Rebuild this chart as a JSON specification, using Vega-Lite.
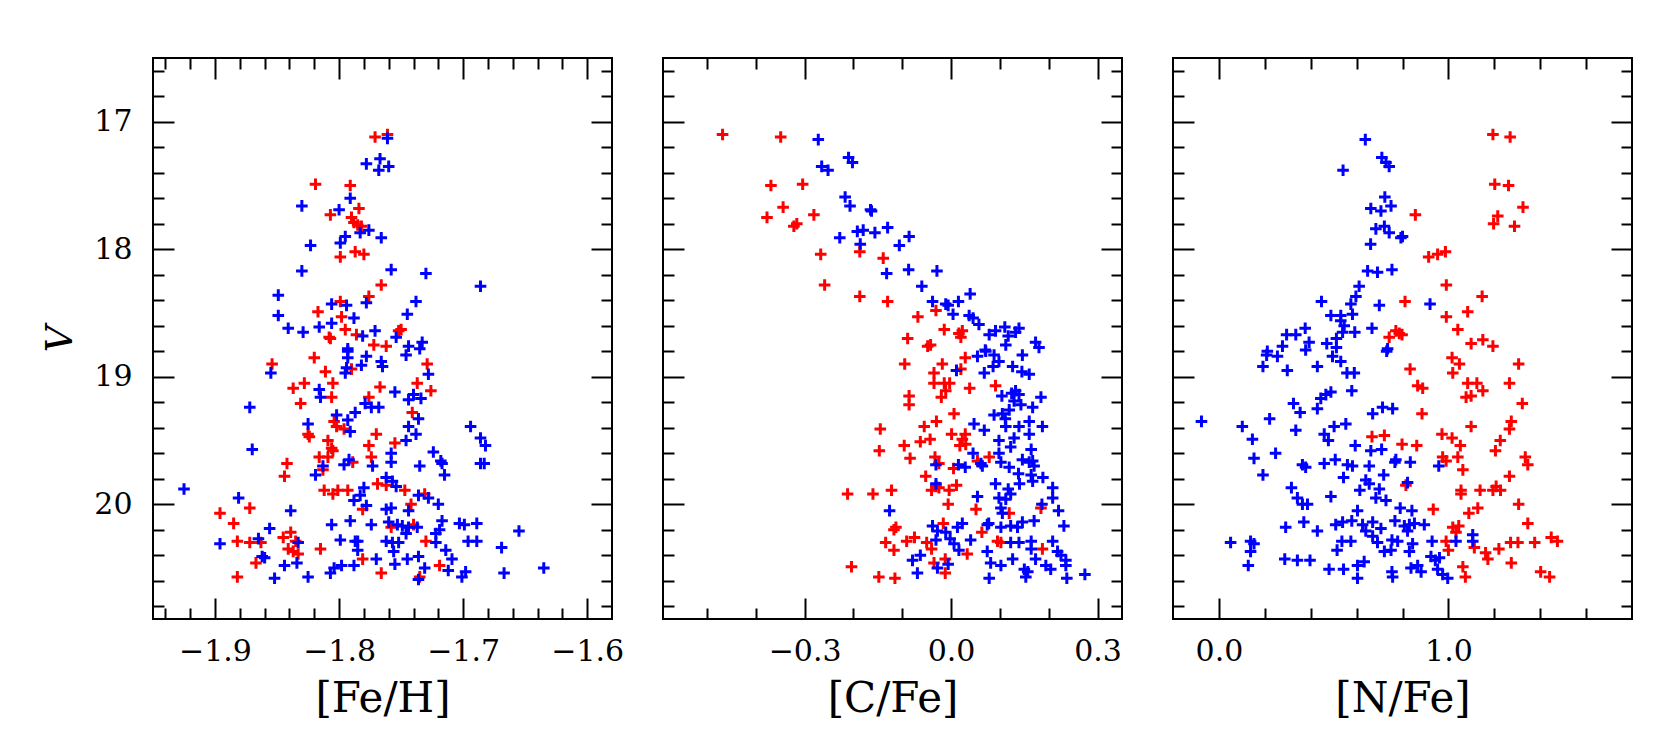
{
"$schema": "https://vega.github.io/schema/vega-lite/v6.json",
"padding": {"left": 40, "top": 56, "right": 5, "bottom": 4},
"background": "white",
"config": {
  "view": {"stroke": "black", "strokeWidth": 2},
  "axis": {"domain": false, "grid": false, "tickColor": "black", "tickWidth": 2, "labelFont": "DejaVu Serif", "labelFontSize": 30, "labelColor": "black", "titleFont": "DejaVu Serif", "titleFontSize": 42, "titleFontWeight": "normal", "titleColor": "black", "labelFlush": false, "labelOverlap": false}
},
"datasets": {
"feh": [
{"feh":-1.771,"V":17.12,"g":"red"},{"feh":-1.761,"V":17.10,"g":"red"},{"feh":-1.819,"V":17.49,"g":"red"},{"feh":-1.791,"V":17.50,"g":"red"},{"feh":-1.784,"V":17.68,"g":"red"},{"feh":-1.807,"V":17.73,"g":"red"},{"feh":-1.790,"V":17.75,"g":"red"},{"feh":-1.788,"V":17.79,"g":"red"},{"feh":-1.785,"V":17.81,"g":"red"},{"feh":-1.782,"V":17.82,"g":"red"},{"feh":-1.787,"V":18.02,"g":"red"},{"feh":-1.780,"V":18.04,"g":"red"},{"feh":-1.799,"V":18.06,"g":"red"},{"feh":-1.766,"V":18.28,"g":"red"},{"feh":-1.776,"V":18.37,"g":"red"},{"feh":-1.799,"V":18.41,"g":"red"},{"feh":-1.817,"V":18.49,"g":"red"},{"feh":-1.798,"V":18.53,"g":"red"},{"feh":-1.795,"V":18.63,"g":"red"},{"feh":-1.786,"V":18.67,"g":"red"},{"feh":-1.808,"V":18.69,"g":"red"},{"feh":-1.807,"V":18.70,"g":"red"},{"feh":-1.752,"V":18.64,"g":"red"},{"feh":-1.750,"V":18.63,"g":"red"},{"feh":-1.772,"V":18.75,"g":"red"},{"feh":-1.762,"V":18.76,"g":"red"},
{"feh":-1.854,"V":18.90,"g":"red"},{"feh":-1.820,"V":18.85,"g":"red"},{"feh":-1.790,"V":18.94,"g":"red"},{"feh":-1.811,"V":18.96,"g":"red"},{"feh":-1.729,"V":18.90,"g":"red"},{"feh":-1.837,"V":19.09,"g":"red"},{"feh":-1.828,"V":19.05,"g":"red"},{"feh":-1.805,"V":19.05,"g":"red"},{"feh":-1.806,"V":19.16,"g":"red"},{"feh":-1.767,"V":19.08,"g":"red"},{"feh":-1.737,"V":19.05,"g":"red"},{"feh":-1.726,"V":19.11,"g":"red"},{"feh":-1.776,"V":19.16,"g":"red"},{"feh":-1.831,"V":19.21,"g":"red"},{"feh":-1.741,"V":19.28,"g":"red"},{"feh":-1.804,"V":19.35,"g":"red"},{"feh":-1.802,"V":19.39,"g":"red"},{"feh":-1.796,"V":19.41,"g":"red"},{"feh":-1.825,"V":19.45,"g":"red"},{"feh":-1.824,"V":19.47,"g":"red"},{"feh":-1.770,"V":19.45,"g":"red"},{"feh":-1.809,"V":19.50,"g":"red"},{"feh":-1.806,"V":19.56,"g":"red"},{"feh":-1.805,"V":19.58,"g":"red"},{"feh":-1.776,"V":19.54,"g":"red"},{"feh":-1.755,"V":19.52,"g":"red"},{"feh":-1.816,"V":19.63,"g":"red"},{"feh":-1.809,"V":19.63,"g":"red"},{"feh":-1.774,"V":19.63,"g":"red"},{"feh":-1.789,"V":19.67,"g":"red"},{"feh":-1.842,"V":19.68,"g":"red"},{"feh":-1.844,"V":19.78,"g":"red"},{"feh":-1.813,"V":19.73,"g":"red"},{"feh":-1.769,"V":19.84,"g":"red"},{"feh":-1.762,"V":19.85,"g":"red"},{"feh":-1.812,"V":19.89,"g":"red"},{"feh":-1.805,"V":19.92,"g":"red"},{"feh":-1.801,"V":19.89,"g":"red"},{"feh":-1.793,"V":19.89,"g":"red"},{"feh":-1.747,"V":19.89,"g":"red"},{"feh":-1.731,"V":19.92,"g":"red"},{"feh":-1.742,"V":20.00,"g":"red"},{"feh":-1.872,"V":20.03,"g":"red"},{"feh":-1.781,"V":20.04,"g":"red"},{"feh":-1.896,"V":20.07,"g":"red"},{"feh":-1.885,"V":20.15,"g":"red"},{"feh":-1.758,"V":20.18,"g":"red"},{"feh":-1.740,"V":20.16,"g":"red"},{"feh":-1.882,"V":20.29,"g":"red"},{"feh":-1.872,"V":20.30,"g":"red"},{"feh":-1.863,"V":20.30,"g":"red"},{"feh":-1.839,"V":20.22,"g":"red"},{"feh":-1.845,"V":20.26,"g":"red"},{"feh":-1.835,"V":20.29,"g":"red"},{"feh":-1.841,"V":20.35,"g":"red"},{"feh":-1.837,"V":20.37,"g":"red"},{"feh":-1.833,"V":20.39,"g":"red"},{"feh":-1.815,"V":20.35,"g":"red"},{"feh":-1.730,"V":20.29,"g":"red"},{"feh":-1.867,"V":20.46,"g":"red"},{"feh":-1.781,"V":20.43,"g":"red"},{"feh":-1.719,"V":20.48,"g":"red"},{"feh":-1.766,"V":20.54,"g":"red"},{"feh":-1.882,"V":20.57,"g":"red"},{"feh":-1.735,"V":20.57,"g":"red"},
{"feh":-1.761,"V":17.13,"g":"blue"},{"feh":-1.767,"V":17.29,"g":"blue"},{"feh":-1.778,"V":17.33,"g":"blue"},{"feh":-1.760,"V":17.35,"g":"blue"},{"feh":-1.768,"V":17.38,"g":"blue"},{"feh":-1.791,"V":17.60,"g":"blue"},{"feh":-1.830,"V":17.66,"g":"blue"},{"feh":-1.800,"V":17.69,"g":"blue"},{"feh":-1.783,"V":17.87,"g":"blue"},{"feh":-1.776,"V":17.85,"g":"blue"},{"feh":-1.766,"V":17.91,"g":"blue"},{"feh":-1.795,"V":17.90,"g":"blue"},{"feh":-1.799,"V":17.95,"g":"blue"},{"feh":-1.823,"V":17.97,"g":"blue"},{"feh":-1.830,"V":18.17,"g":"blue"},{"feh":-1.758,"V":18.16,"g":"blue"},{"feh":-1.730,"V":18.19,"g":"blue"},{"feh":-1.686,"V":18.29,"g":"blue"},{"feh":-1.849,"V":18.36,"g":"blue"},{"feh":-1.738,"V":18.41,"g":"blue"},{"feh":-1.778,"V":18.42,"g":"blue"},{"feh":-1.806,"V":18.43,"g":"blue"},{"feh":-1.794,"V":18.44,"g":"blue"},{"feh":-1.849,"V":18.52,"g":"blue"},{"feh":-1.788,"V":18.54,"g":"blue"},{"feh":-1.745,"V":18.51,"g":"blue"},{"feh":-1.841,"V":18.62,"g":"blue"},{"feh":-1.829,"V":18.65,"g":"blue"},{"feh":-1.816,"V":18.61,"g":"blue"},{"feh":-1.806,"V":18.58,"g":"blue"},{"feh":-1.771,"V":18.64,"g":"blue"},{"feh":-1.781,"V":18.68,"g":"blue"},{"feh":-1.754,"V":18.69,"g":"blue"},{"feh":-1.744,"V":18.76,"g":"blue"},{"feh":-1.733,"V":18.73,"g":"blue"},{"feh":-1.735,"V":18.78,"g":"blue"},{"feh":-1.793,"V":18.78,"g":"blue"},
{"feh":-1.855,"V":18.97,"g":"blue"},{"feh":-1.793,"V":18.80,"g":"blue"},{"feh":-1.793,"V":18.85,"g":"blue"},{"feh":-1.778,"V":18.84,"g":"blue"},{"feh":-1.766,"V":18.88,"g":"blue"},{"feh":-1.765,"V":18.92,"g":"blue"},{"feh":-1.782,"V":18.91,"g":"blue"},{"feh":-1.794,"V":18.93,"g":"blue"},{"feh":-1.795,"V":18.97,"g":"blue"},{"feh":-1.746,"V":18.83,"g":"blue"},{"feh":-1.728,"V":18.98,"g":"blue"},{"feh":-1.816,"V":19.10,"g":"blue"},{"feh":-1.815,"V":19.16,"g":"blue"},{"feh":-1.755,"V":19.12,"g":"blue"},{"feh":-1.740,"V":19.14,"g":"blue"},{"feh":-1.744,"V":19.18,"g":"blue"},{"feh":-1.734,"V":19.17,"g":"blue"},{"feh":-1.872,"V":19.24,"g":"blue"},{"feh":-1.779,"V":19.21,"g":"blue"},{"feh":-1.774,"V":19.24,"g":"blue"},{"feh":-1.768,"V":19.24,"g":"blue"},{"feh":-1.787,"V":19.28,"g":"blue"},{"feh":-1.802,"V":19.30,"g":"blue"},{"feh":-1.736,"V":19.33,"g":"blue"},{"feh":-1.793,"V":19.34,"g":"blue"},{"feh":-1.791,"V":19.43,"g":"blue"},{"feh":-1.825,"V":19.37,"g":"blue"},{"feh":-1.744,"V":19.39,"g":"blue"},{"feh":-1.738,"V":19.45,"g":"blue"},{"feh":-1.694,"V":19.39,"g":"blue"},{"feh":-1.686,"V":19.48,"g":"blue"},{"feh":-1.682,"V":19.54,"g":"blue"},{"feh":-1.746,"V":19.50,"g":"blue"},{"feh":-1.870,"V":19.57,"g":"blue"},{"feh":-1.724,"V":19.59,"g":"blue"},{"feh":-1.758,"V":19.60,"g":"blue"},{"feh":-1.758,"V":19.67,"g":"blue"},{"feh":-1.792,"V":19.65,"g":"blue"},{"feh":-1.796,"V":19.69,"g":"blue"},{"feh":-1.718,"V":19.66,"g":"blue"},{"feh":-1.717,"V":19.68,"g":"blue"},{"feh":-1.813,"V":19.70,"g":"blue"},{"feh":-1.819,"V":19.77,"g":"blue"},{"feh":-1.773,"V":19.70,"g":"blue"},{"feh":-1.735,"V":19.70,"g":"blue"},{"feh":-1.715,"V":19.77,"g":"blue"},{"feh":-1.686,"V":19.68,"g":"blue"},{"feh":-1.683,"V":19.68,"g":"blue"},{"feh":-1.762,"V":19.79,"g":"blue"},{"feh":-1.757,"V":19.82,"g":"blue"},{"feh":-1.754,"V":19.86,"g":"blue"},{"feh":-1.925,"V":19.88,"g":"blue"},{"feh":-1.780,"V":19.87,"g":"blue"},{"feh":-1.783,"V":19.93,"g":"blue"},{"feh":-1.788,"V":19.97,"g":"blue"},{"feh":-1.736,"V":19.93,"g":"blue"},{"feh":-1.728,"V":19.95,"g":"blue"},{"feh":-1.881,"V":19.95,"g":"blue"},{"feh":-1.720,"V":20.00,"g":"blue"},{"feh":-1.744,"V":20.05,"g":"blue"},{"feh":-1.839,"V":20.05,"g":"blue"},{"feh":-1.778,"V":20.01,"g":"blue"},{"feh":-1.762,"V":20.04,"g":"blue"},{"feh":-1.758,"V":20.03,"g":"blue"},{"feh":-1.806,"V":20.16,"g":"blue"},{"feh":-1.791,"V":20.13,"g":"blue"},{"feh":-1.774,"V":20.16,"g":"blue"},{"feh":-1.760,"V":20.14,"g":"blue"},{"feh":-1.753,"V":20.16,"g":"blue"},{"feh":-1.749,"V":20.17,"g":"blue"},{"feh":-1.744,"V":20.18,"g":"blue"},{"feh":-1.737,"V":20.18,"g":"blue"},{"feh":-1.717,"V":20.13,"g":"blue"},{"feh":-1.719,"V":20.20,"g":"blue"},{"feh":-1.722,"V":20.23,"g":"blue"},{"feh":-1.703,"V":20.15,"g":"blue"},{"feh":-1.699,"V":20.16,"g":"blue"},{"feh":-1.689,"V":20.15,"g":"blue"},{"feh":-1.655,"V":20.21,"g":"blue"},{"feh":-1.856,"V":20.19,"g":"blue"},{"feh":-1.865,"V":20.27,"g":"blue"},{"feh":-1.896,"V":20.31,"g":"blue"},{"feh":-1.833,"V":20.30,"g":"blue"},{"feh":-1.799,"V":20.28,"g":"blue"},{"feh":-1.787,"V":20.29,"g":"blue"},{"feh":-1.785,"V":20.29,"g":"blue"},{"feh":-1.785,"V":20.36,"g":"blue"},{"feh":-1.762,"V":20.29,"g":"blue"},{"feh":-1.757,"V":20.30,"g":"blue"},{"feh":-1.752,"V":20.30,"g":"blue"},{"feh":-1.756,"V":20.37,"g":"blue"},{"feh":-1.746,"V":20.23,"g":"blue"},{"feh":-1.722,"V":20.30,"g":"blue"},{"feh":-1.714,"V":20.36,"g":"blue"},{"feh":-1.709,"V":20.43,"g":"blue"},{"feh":-1.696,"V":20.29,"g":"blue"},{"feh":-1.689,"V":20.29,"g":"blue"},{"feh":-1.669,"V":20.34,"g":"blue"},{"feh":-1.862,"V":20.41,"g":"blue"},{"feh":-1.860,"V":20.42,"g":"blue"},{"feh":-1.770,"V":20.43,"g":"blue"},{"feh":-1.755,"V":20.47,"g":"blue"},{"feh":-1.745,"V":20.43,"g":"blue"},{"feh":-1.736,"V":20.41,"g":"blue"},{"feh":-1.731,"V":20.50,"g":"blue"},{"feh":-1.712,"V":20.52,"g":"blue"},{"feh":-1.698,"V":20.53,"g":"blue"},{"feh":-1.701,"V":20.57,"g":"blue"},{"feh":-1.667,"V":20.54,"g":"blue"},{"feh":-1.635,"V":20.50,"g":"blue"},{"feh":-1.844,"V":20.48,"g":"blue"},{"feh":-1.834,"V":20.46,"g":"blue"},{"feh":-1.807,"V":20.54,"g":"blue"},{"feh":-1.804,"V":20.50,"g":"blue"},{"feh":-1.798,"V":20.48,"g":"blue"},{"feh":-1.788,"V":20.48,"g":"blue"},{"feh":-1.852,"V":20.58,"g":"blue"},{"feh":-1.825,"V":20.57,"g":"blue"},{"feh":-1.736,"V":20.59,"g":"blue"}
],
"cfe": [
{"cfe":-0.468,"V":17.10,"g":"red"},{"cfe":-0.349,"V":17.12,"g":"red"},{"cfe":-0.369,"V":17.50,"g":"red"},{"cfe":-0.304,"V":17.49,"g":"red"},{"cfe":-0.344,"V":17.67,"g":"red"},{"cfe":-0.377,"V":17.75,"g":"red"},{"cfe":-0.281,"V":17.73,"g":"red"},{"cfe":-0.322,"V":17.82,"g":"red"},{"cfe":-0.316,"V":17.80,"g":"red"},{"cfe":-0.267,"V":18.04,"g":"red"},{"cfe":-0.187,"V":18.02,"g":"red"},{"cfe":-0.139,"V":18.07,"g":"red"},{"cfe":-0.259,"V":18.28,"g":"red"},{"cfe":-0.187,"V":18.37,"g":"red"},{"cfe":-0.130,"V":18.41,"g":"red"},{"cfe":-0.068,"V":18.53,"g":"red"},{"cfe":-0.031,"V":18.48,"g":"red"},{"cfe":-0.014,"V":18.63,"g":"red"},{"cfe":0.016,"V":18.66,"g":"red"},{"cfe":0.023,"V":18.64,"g":"red"},{"cfe":0.020,"V":18.69,"g":"red"},{"cfe":-0.089,"V":18.70,"g":"red"},{"cfe":-0.048,"V":18.76,"g":"red"},{"cfe":-0.042,"V":18.75,"g":"red"},
{"cfe":-0.095,"V":18.90,"g":"red"},{"cfe":-0.018,"V":18.90,"g":"red"},{"cfe":0.029,"V":18.85,"g":"red"},{"cfe":0.020,"V":18.94,"g":"red"},{"cfe":-0.035,"V":18.97,"g":"red"},{"cfe":-0.035,"V":19.05,"g":"red"},{"cfe":-0.014,"V":19.05,"g":"red"},{"cfe":-0.003,"V":19.05,"g":"red"},{"cfe":-0.011,"V":19.11,"g":"red"},{"cfe":-0.020,"V":19.16,"g":"red"},{"cfe":0.038,"V":19.09,"g":"red"},{"cfe":0.091,"V":19.07,"g":"red"},{"cfe":-0.086,"V":19.15,"g":"red"},{"cfe":-0.086,"V":19.22,"g":"red"},{"cfe":0.006,"V":19.29,"g":"red"},{"cfe":-0.030,"V":19.35,"g":"red"},{"cfe":-0.055,"V":19.39,"g":"red"},{"cfe":-0.145,"V":19.41,"g":"red"},{"cfe":-0.147,"V":19.58,"g":"red"},{"cfe":0.001,"V":19.45,"g":"red"},{"cfe":0.029,"V":19.45,"g":"red"},{"cfe":0.023,"V":19.49,"g":"red"},{"cfe":0.030,"V":19.53,"g":"red"},{"cfe":0.018,"V":19.54,"g":"red"},{"cfe":-0.043,"V":19.49,"g":"red"},{"cfe":-0.063,"V":19.51,"g":"red"},{"cfe":-0.096,"V":19.54,"g":"red"},{"cfe":-0.084,"V":19.64,"g":"red"},{"cfe":-0.033,"V":19.63,"g":"red"},{"cfe":-0.025,"V":19.68,"g":"red"},{"cfe":0.054,"V":19.66,"g":"red"},{"cfe":0.078,"V":19.63,"g":"red"},{"cfe":0.005,"V":19.72,"g":"red"},{"cfe":-0.052,"V":19.78,"g":"red"},{"cfe":-0.031,"V":19.86,"g":"red"},{"cfe":-0.040,"V":19.89,"g":"red"},{"cfe":-0.025,"V":19.87,"g":"red"},{"cfe":-0.004,"V":19.89,"g":"red"},{"cfe":0.011,"V":19.85,"g":"red"},{"cfe":-0.212,"V":19.92,"g":"red"},{"cfe":-0.160,"V":19.92,"g":"red"},{"cfe":-0.122,"V":19.89,"g":"red"},{"cfe":-0.006,"V":20.00,"g":"red"},{"cfe":0.051,"V":20.04,"g":"red"},{"cfe":0.119,"V":20.07,"g":"red"},{"cfe":0.184,"V":20.03,"g":"red"},{"cfe":-0.113,"V":20.18,"g":"red"},{"cfe":-0.117,"V":20.20,"g":"red"},{"cfe":-0.016,"V":20.15,"g":"red"},{"cfe":0.063,"V":20.22,"g":"red"},{"cfe":-0.134,"V":20.30,"g":"red"},{"cfe":-0.117,"V":20.36,"g":"red"},{"cfe":-0.091,"V":20.29,"g":"red"},{"cfe":-0.075,"V":20.26,"g":"red"},{"cfe":-0.050,"V":20.30,"g":"red"},{"cfe":-0.040,"V":20.35,"g":"red"},{"cfe":0.033,"V":20.39,"g":"red"},{"cfe":0.095,"V":20.29,"g":"red"},{"cfe":0.102,"V":20.30,"g":"red"},{"cfe":0.187,"V":20.35,"g":"red"},{"cfe":-0.035,"V":20.46,"g":"red"},{"cfe":-0.012,"V":20.43,"g":"red"},{"cfe":-0.012,"V":20.54,"g":"red"},{"cfe":-0.204,"V":20.49,"g":"red"},{"cfe":-0.148,"V":20.57,"g":"red"},{"cfe":-0.115,"V":20.58,"g":"red"},
{"cfe":-0.272,"V":17.14,"g":"blue"},{"cfe":-0.210,"V":17.28,"g":"blue"},{"cfe":-0.202,"V":17.32,"g":"blue"},{"cfe":-0.265,"V":17.35,"g":"blue"},{"cfe":-0.252,"V":17.38,"g":"blue"},{"cfe":-0.217,"V":17.59,"g":"blue"},{"cfe":-0.207,"V":17.66,"g":"blue"},{"cfe":-0.165,"V":17.69,"g":"blue"},{"cfe":-0.163,"V":17.70,"g":"blue"},{"cfe":-0.192,"V":17.86,"g":"blue"},{"cfe":-0.180,"V":17.85,"g":"blue"},{"cfe":-0.156,"V":17.87,"g":"blue"},{"cfe":-0.130,"V":17.83,"g":"blue"},{"cfe":-0.228,"V":17.91,"g":"blue"},{"cfe":-0.186,"V":17.96,"g":"blue"},{"cfe":-0.086,"V":17.90,"g":"blue"},{"cfe":-0.106,"V":17.97,"g":"blue"},{"cfe":-0.132,"V":18.19,"g":"blue"},{"cfe":-0.087,"V":18.16,"g":"blue"},{"cfe":-0.029,"V":18.17,"g":"blue"},{"cfe":-0.060,"V":18.29,"g":"blue"},{"cfe":-0.038,"V":18.41,"g":"blue"},{"cfe":-0.011,"V":18.43,"g":"blue"},{"cfe":-0.006,"V":18.44,"g":"blue"},{"cfe":0.015,"V":18.41,"g":"blue"},{"cfe":0.039,"V":18.35,"g":"blue"},{"cfe":0.004,"V":18.51,"g":"blue"},{"cfe":0.037,"V":18.52,"g":"blue"},{"cfe":0.045,"V":18.54,"g":"blue"},{"cfe":0.057,"V":18.59,"g":"blue"},{"cfe":0.078,"V":18.67,"g":"blue"},{"cfe":0.091,"V":18.64,"g":"blue"},{"cfe":0.110,"V":18.61,"g":"blue"},{"cfe":0.117,"V":18.68,"g":"blue"},{"cfe":0.132,"V":18.65,"g":"blue"},{"cfe":0.139,"V":18.62,"g":"blue"},{"cfe":0.112,"V":18.75,"g":"blue"},{"cfe":0.173,"V":18.73,"g":"blue"},{"cfe":0.180,"V":18.77,"g":"blue"},{"cfe":0.070,"V":18.79,"g":"blue"},
{"cfe":0.011,"V":18.95,"g":"blue"},{"cfe":0.054,"V":18.84,"g":"blue"},{"cfe":0.071,"V":18.80,"g":"blue"},{"cfe":0.088,"V":18.83,"g":"blue"},{"cfe":0.098,"V":18.88,"g":"blue"},{"cfe":0.086,"V":18.92,"g":"blue"},{"cfe":0.126,"V":18.92,"g":"blue"},{"cfe":0.146,"V":18.83,"g":"blue"},{"cfe":0.068,"V":18.97,"g":"blue"},{"cfe":0.145,"V":18.96,"g":"blue"},{"cfe":0.160,"V":18.98,"g":"blue"},{"cfe":0.104,"V":19.15,"g":"blue"},{"cfe":0.124,"V":19.13,"g":"blue"},{"cfe":0.132,"V":19.11,"g":"blue"},{"cfe":0.139,"V":19.14,"g":"blue"},{"cfe":0.129,"V":19.19,"g":"blue"},{"cfe":0.143,"V":19.22,"g":"blue"},{"cfe":0.184,"V":19.16,"g":"blue"},{"cfe":0.167,"V":19.24,"g":"blue"},{"cfe":0.119,"V":19.26,"g":"blue"},{"cfe":0.088,"V":19.30,"g":"blue"},{"cfe":0.105,"V":19.29,"g":"blue"},{"cfe":0.111,"V":19.33,"g":"blue"},{"cfe":0.047,"V":19.37,"g":"blue"},{"cfe":0.068,"V":19.42,"g":"blue"},{"cfe":0.112,"V":19.39,"g":"blue"},{"cfe":0.139,"V":19.39,"g":"blue"},{"cfe":0.160,"V":19.35,"g":"blue"},{"cfe":0.160,"V":19.45,"g":"blue"},{"cfe":0.187,"V":19.39,"g":"blue"},{"cfe":0.098,"V":19.50,"g":"blue"},{"cfe":0.129,"V":19.48,"g":"blue"},{"cfe":0.122,"V":19.55,"g":"blue"},{"cfe":0.098,"V":19.60,"g":"blue"},{"cfe":0.045,"V":19.60,"g":"blue"},{"cfe":0.164,"V":19.57,"g":"blue"},{"cfe":-0.031,"V":19.69,"g":"blue"},{"cfe":0.061,"V":19.68,"g":"blue"},{"cfe":0.064,"V":19.70,"g":"blue"},{"cfe":0.015,"V":19.69,"g":"blue"},{"cfe":0.029,"V":19.71,"g":"blue"},{"cfe":0.102,"V":19.67,"g":"blue"},{"cfe":0.119,"V":19.71,"g":"blue"},{"cfe":0.146,"V":19.65,"g":"blue"},{"cfe":0.160,"V":19.67,"g":"blue"},{"cfe":0.170,"V":19.70,"g":"blue"},{"cfe":0.167,"V":19.66,"g":"blue"},{"cfe":0.138,"V":19.76,"g":"blue"},{"cfe":0.140,"V":19.84,"g":"blue"},{"cfe":0.164,"V":19.77,"g":"blue"},{"cfe":0.167,"V":19.82,"g":"blue"},{"cfe":0.188,"V":19.79,"g":"blue"},{"cfe":-0.031,"V":19.84,"g":"blue"},{"cfe":0.091,"V":19.84,"g":"blue"},{"cfe":0.117,"V":19.88,"g":"blue"},{"cfe":0.122,"V":19.92,"g":"blue"},{"cfe":0.112,"V":19.96,"g":"blue"},{"cfe":0.098,"V":19.95,"g":"blue"},{"cfe":0.054,"V":19.94,"g":"blue"},{"cfe":0.208,"V":19.87,"g":"blue"},{"cfe":0.208,"V":19.95,"g":"blue"},{"cfe":-0.126,"V":20.05,"g":"blue"},{"cfe":0.102,"V":20.03,"g":"blue"},{"cfe":0.105,"V":20.07,"g":"blue"},{"cfe":0.186,"V":20.00,"g":"blue"},{"cfe":0.220,"V":20.05,"g":"blue"},{"cfe":0.231,"V":20.17,"g":"blue"},{"cfe":-0.038,"V":20.17,"g":"blue"},{"cfe":-0.028,"V":20.21,"g":"blue"},{"cfe":-0.011,"V":20.22,"g":"blue"},{"cfe":0.013,"V":20.18,"g":"blue"},{"cfe":0.023,"V":20.15,"g":"blue"},{"cfe":0.074,"V":20.16,"g":"blue"},{"cfe":0.077,"V":20.15,"g":"blue"},{"cfe":0.102,"V":20.18,"g":"blue"},{"cfe":0.122,"V":20.17,"g":"blue"},{"cfe":0.136,"V":20.18,"g":"blue"},{"cfe":0.146,"V":20.14,"g":"blue"},{"cfe":0.170,"V":20.13,"g":"blue"},{"cfe":-0.031,"V":20.28,"g":"blue"},{"cfe":-0.002,"V":20.27,"g":"blue"},{"cfe":0.006,"V":20.31,"g":"blue"},{"cfe":0.016,"V":20.36,"g":"blue"},{"cfe":0.040,"V":20.28,"g":"blue"},{"cfe":0.122,"V":20.30,"g":"blue"},{"cfe":0.139,"V":20.30,"g":"blue"},{"cfe":0.164,"V":20.29,"g":"blue"},{"cfe":0.164,"V":20.35,"g":"blue"},{"cfe":0.208,"V":20.29,"g":"blue"},{"cfe":0.074,"V":20.37,"g":"blue"},{"cfe":0.218,"V":20.37,"g":"blue"},{"cfe":0.225,"V":20.40,"g":"blue"},{"cfe":0.235,"V":20.44,"g":"blue"},{"cfe":0.235,"V":20.48,"g":"blue"},{"cfe":-0.079,"V":20.44,"g":"blue"},{"cfe":-0.063,"V":20.40,"g":"blue"},{"cfe":-0.069,"V":20.54,"g":"blue"},{"cfe":-0.028,"V":20.50,"g":"blue"},{"cfe":-0.006,"V":20.47,"g":"blue"},{"cfe":0.081,"V":20.46,"g":"blue"},{"cfe":0.102,"V":20.48,"g":"blue"},{"cfe":0.126,"V":20.43,"g":"blue"},{"cfe":0.173,"V":20.43,"g":"blue"},{"cfe":0.150,"V":20.51,"g":"blue"},{"cfe":0.157,"V":20.53,"g":"blue"},{"cfe":0.153,"V":20.57,"g":"blue"},{"cfe":0.194,"V":20.48,"g":"blue"},{"cfe":0.204,"V":20.51,"g":"blue"},{"cfe":0.078,"V":20.58,"g":"blue"},{"cfe":0.237,"V":20.58,"g":"blue"},{"cfe":0.274,"V":20.55,"g":"blue"}
],
"nfe": [
{"nfe":1.194,"V":17.10,"g":"red"},{"nfe":1.269,"V":17.12,"g":"red"},{"nfe":1.202,"V":17.49,"g":"red"},{"nfe":1.262,"V":17.50,"g":"red"},{"nfe":0.856,"V":17.73,"g":"red"},{"nfe":1.325,"V":17.67,"g":"red"},{"nfe":1.215,"V":17.74,"g":"red"},{"nfe":1.197,"V":17.80,"g":"red"},{"nfe":1.288,"V":17.82,"g":"red"},{"nfe":0.914,"V":18.06,"g":"red"},{"nfe":0.953,"V":18.04,"g":"red"},{"nfe":0.987,"V":18.02,"g":"red"},{"nfe":0.991,"V":18.28,"g":"red"},{"nfe":1.147,"V":18.37,"g":"red"},{"nfe":0.811,"V":18.41,"g":"red"},{"nfe":0.991,"V":18.53,"g":"red"},{"nfe":1.084,"V":18.49,"g":"red"},{"nfe":1.041,"V":18.63,"g":"red"},{"nfe":0.742,"V":18.69,"g":"red"},{"nfe":0.771,"V":18.64,"g":"red"},{"nfe":0.798,"V":18.67,"g":"red"},{"nfe":0.786,"V":18.66,"g":"red"},{"nfe":1.099,"V":18.74,"g":"red"},{"nfe":1.150,"V":18.71,"g":"red"},{"nfe":1.194,"V":18.76,"g":"red"},
{"nfe":0.833,"V":18.94,"g":"red"},{"nfe":1.016,"V":18.85,"g":"red"},{"nfe":1.048,"V":18.90,"g":"red"},{"nfe":1.019,"V":18.97,"g":"red"},{"nfe":1.306,"V":18.90,"g":"red"},{"nfe":0.866,"V":19.07,"g":"red"},{"nfe":0.888,"V":19.09,"g":"red"},{"nfe":1.084,"V":19.05,"g":"red"},{"nfe":1.124,"V":19.05,"g":"red"},{"nfe":1.150,"V":19.11,"g":"red"},{"nfe":1.077,"V":19.16,"g":"red"},{"nfe":1.099,"V":19.15,"g":"red"},{"nfe":1.266,"V":19.05,"g":"red"},{"nfe":1.322,"V":19.21,"g":"red"},{"nfe":0.885,"V":19.29,"g":"red"},{"nfe":0.667,"V":19.47,"g":"red"},{"nfe":0.721,"V":19.46,"g":"red"},{"nfe":0.798,"V":19.53,"g":"red"},{"nfe":0.862,"V":19.54,"g":"red"},{"nfe":0.972,"V":19.45,"g":"red"},{"nfe":1.016,"V":19.48,"g":"red"},{"nfe":1.052,"V":19.54,"g":"red"},{"nfe":0.975,"V":19.63,"g":"red"},{"nfe":0.990,"V":19.66,"g":"red"},{"nfe":1.041,"V":19.63,"g":"red"},{"nfe":1.063,"V":19.73,"g":"red"},{"nfe":1.099,"V":19.39,"g":"red"},{"nfe":1.226,"V":19.50,"g":"red"},{"nfe":1.205,"V":19.58,"g":"red"},{"nfe":1.266,"V":19.41,"g":"red"},{"nfe":1.274,"V":19.35,"g":"red"},{"nfe":1.335,"V":19.63,"g":"red"},{"nfe":1.346,"V":19.69,"g":"red"},{"nfe":1.266,"V":19.78,"g":"red"},{"nfe":0.815,"V":19.85,"g":"red"},{"nfe":1.055,"V":19.89,"g":"red"},{"nfe":1.055,"V":19.92,"g":"red"},{"nfe":1.138,"V":19.89,"g":"red"},{"nfe":1.194,"V":19.89,"g":"red"},{"nfe":1.208,"V":19.86,"g":"red"},{"nfe":1.227,"V":19.89,"g":"red"},{"nfe":1.306,"V":20.00,"g":"red"},{"nfe":0.934,"V":20.04,"g":"red"},{"nfe":1.089,"V":20.07,"g":"red"},{"nfe":1.128,"V":20.03,"g":"red"},{"nfe":1.346,"V":20.15,"g":"red"},{"nfe":1.019,"V":20.18,"g":"red"},{"nfe":1.033,"V":20.22,"g":"red"},{"nfe":1.045,"V":20.17,"g":"red"},{"nfe":0.990,"V":20.29,"g":"red"},{"nfe":1.000,"V":20.36,"g":"red"},{"nfe":1.113,"V":20.34,"g":"red"},{"nfe":1.162,"V":20.38,"g":"red"},{"nfe":1.172,"V":20.43,"g":"red"},{"nfe":1.220,"V":20.35,"g":"red"},{"nfe":1.271,"V":20.30,"g":"red"},{"nfe":1.303,"V":20.30,"g":"red"},{"nfe":1.376,"V":20.30,"g":"red"},{"nfe":1.448,"V":20.26,"g":"red"},{"nfe":1.475,"V":20.29,"g":"red"},{"nfe":1.274,"V":20.46,"g":"red"},{"nfe":1.063,"V":20.49,"g":"red"},{"nfe":1.074,"V":20.57,"g":"red"},{"nfe":1.402,"V":20.53,"g":"red"},{"nfe":1.441,"V":20.57,"g":"red"},
{"nfe":0.638,"V":17.14,"g":"blue"},{"nfe":0.710,"V":17.28,"g":"blue"},{"nfe":0.728,"V":17.32,"g":"blue"},{"nfe":0.742,"V":17.35,"g":"blue"},{"nfe":0.541,"V":17.38,"g":"blue"},{"nfe":0.723,"V":17.59,"g":"blue"},{"nfe":0.662,"V":17.68,"g":"blue"},{"nfe":0.706,"V":17.70,"g":"blue"},{"nfe":0.750,"V":17.66,"g":"blue"},{"nfe":0.684,"V":17.84,"g":"blue"},{"nfe":0.721,"V":17.82,"g":"blue"},{"nfe":0.742,"V":17.87,"g":"blue"},{"nfe":0.793,"V":17.91,"g":"blue"},{"nfe":0.800,"V":17.90,"g":"blue"},{"nfe":0.661,"V":17.96,"g":"blue"},{"nfe":0.648,"V":18.17,"g":"blue"},{"nfe":0.691,"V":18.18,"g":"blue"},{"nfe":0.754,"V":18.16,"g":"blue"},{"nfe":0.611,"V":18.29,"g":"blue"},{"nfe":0.597,"V":18.37,"g":"blue"},{"nfe":0.575,"V":18.43,"g":"blue"},{"nfe":0.447,"V":18.41,"g":"blue"},{"nfe":0.699,"V":18.44,"g":"blue"},{"nfe":0.920,"V":18.43,"g":"blue"},{"nfe":0.488,"V":18.52,"g":"blue"},{"nfe":0.531,"V":18.52,"g":"blue"},{"nfe":0.531,"V":18.56,"g":"blue"},{"nfe":0.582,"V":18.51,"g":"blue"},{"nfe":0.546,"V":18.60,"g":"blue"},{"nfe":0.539,"V":18.65,"g":"blue"},{"nfe":0.376,"V":18.62,"g":"blue"},{"nfe":0.295,"V":18.67,"g":"blue"},{"nfe":0.335,"V":18.67,"g":"blue"},{"nfe":0.592,"V":18.65,"g":"blue"},{"nfe":0.667,"V":18.62,"g":"blue"},{"nfe":0.277,"V":18.76,"g":"blue"},{"nfe":0.393,"V":18.73,"g":"blue"},{"nfe":0.378,"V":18.79,"g":"blue"},{"nfe":0.470,"V":18.74,"g":"blue"},{"nfe":0.512,"V":18.70,"g":"blue"},{"nfe":0.512,"V":18.77,"g":"blue"},{"nfe":0.735,"V":18.78,"g":"blue"},{"nfe":0.211,"V":18.80,"g":"blue"},
{"nfe":0.208,"V":18.83,"g":"blue"},{"nfe":0.255,"V":18.84,"g":"blue"},{"nfe":0.192,"V":18.92,"g":"blue"},{"nfe":0.298,"V":18.95,"g":"blue"},{"nfe":0.429,"V":18.92,"g":"blue"},{"nfe":0.495,"V":18.84,"g":"blue"},{"nfe":0.531,"V":18.88,"g":"blue"},{"nfe":0.558,"V":18.97,"g":"blue"},{"nfe":0.590,"V":18.97,"g":"blue"},{"nfe":0.731,"V":18.80,"g":"blue"},{"nfe":0.579,"V":19.11,"g":"blue"},{"nfe":0.444,"V":19.17,"g":"blue"},{"nfe":0.466,"V":19.14,"g":"blue"},{"nfe":0.488,"V":19.12,"g":"blue"},{"nfe":0.429,"V":19.25,"g":"blue"},{"nfe":0.325,"V":19.21,"g":"blue"},{"nfe":0.354,"V":19.28,"g":"blue"},{"nfe":0.670,"V":19.29,"g":"blue"},{"nfe":0.713,"V":19.24,"g":"blue"},{"nfe":0.757,"V":19.25,"g":"blue"},{"nfe":-0.076,"V":19.35,"g":"blue"},{"nfe":0.102,"V":19.39,"g":"blue"},{"nfe":0.221,"V":19.33,"g":"blue"},{"nfe":0.146,"V":19.49,"g":"blue"},{"nfe":0.335,"V":19.42,"g":"blue"},{"nfe":0.459,"V":19.45,"g":"blue"},{"nfe":0.477,"V":19.50,"g":"blue"},{"nfe":0.502,"V":19.39,"g":"blue"},{"nfe":0.553,"V":19.37,"g":"blue"},{"nfe":0.247,"V":19.60,"g":"blue"},{"nfe":0.153,"V":19.64,"g":"blue"},{"nfe":0.192,"V":19.77,"g":"blue"},{"nfe":0.364,"V":19.69,"g":"blue"},{"nfe":0.378,"V":19.71,"g":"blue"},{"nfe":0.459,"V":19.68,"g":"blue"},{"nfe":0.507,"V":19.65,"g":"blue"},{"nfe":0.560,"V":19.69,"g":"blue"},{"nfe":0.582,"V":19.70,"g":"blue"},{"nfe":0.594,"V":19.54,"g":"blue"},{"nfe":0.662,"V":19.58,"g":"blue"},{"nfe":0.709,"V":19.57,"g":"blue"},{"nfe":0.655,"V":19.70,"g":"blue"},{"nfe":0.767,"V":19.67,"g":"blue"},{"nfe":0.771,"V":19.65,"g":"blue"},{"nfe":0.834,"V":19.67,"g":"blue"},{"nfe":0.958,"V":19.70,"g":"blue"},{"nfe":0.543,"V":19.79,"g":"blue"},{"nfe":0.640,"V":19.81,"g":"blue"},{"nfe":0.655,"V":19.84,"g":"blue"},{"nfe":0.718,"V":19.77,"g":"blue"},{"nfe":0.822,"V":19.83,"g":"blue"},{"nfe":0.316,"V":19.87,"g":"blue"},{"nfe":0.342,"V":19.95,"g":"blue"},{"nfe":0.364,"V":20.00,"g":"blue"},{"nfe":0.386,"V":20.00,"g":"blue"},{"nfe":0.488,"V":19.94,"g":"blue"},{"nfe":0.614,"V":19.89,"g":"blue"},{"nfe":0.699,"V":19.88,"g":"blue"},{"nfe":0.684,"V":19.95,"g":"blue"},{"nfe":0.728,"V":19.97,"g":"blue"},{"nfe":0.604,"V":20.05,"g":"blue"},{"nfe":0.790,"V":20.03,"g":"blue"},{"nfe":0.841,"V":20.05,"g":"blue"},{"nfe":0.291,"V":20.18,"g":"blue"},{"nfe":0.370,"V":20.14,"g":"blue"},{"nfe":0.429,"V":20.21,"g":"blue"},{"nfe":0.509,"V":20.16,"g":"blue"},{"nfe":0.539,"V":20.14,"g":"blue"},{"nfe":0.579,"V":20.13,"g":"blue"},{"nfe":0.626,"V":20.16,"g":"blue"},{"nfe":0.640,"V":20.21,"g":"blue"},{"nfe":0.670,"V":20.14,"g":"blue"},{"nfe":0.706,"V":20.19,"g":"blue"},{"nfe":0.767,"V":20.13,"g":"blue"},{"nfe":0.808,"V":20.17,"g":"blue"},{"nfe":0.830,"V":20.16,"g":"blue"},{"nfe":0.852,"V":20.15,"g":"blue"},{"nfe":0.895,"V":20.16,"g":"blue"},{"nfe":0.822,"V":20.21,"g":"blue"},{"nfe":0.051,"V":20.30,"g":"blue"},{"nfe":0.138,"V":20.29,"g":"blue"},{"nfe":0.153,"V":20.31,"g":"blue"},{"nfe":0.138,"V":20.37,"g":"blue"},{"nfe":0.128,"V":20.48,"g":"blue"},{"nfe":0.536,"V":20.29,"g":"blue"},{"nfe":0.575,"V":20.29,"g":"blue"},{"nfe":0.515,"V":20.36,"g":"blue"},{"nfe":0.670,"V":20.25,"g":"blue"},{"nfe":0.691,"V":20.30,"g":"blue"},{"nfe":0.754,"V":20.28,"g":"blue"},{"nfe":0.779,"V":20.29,"g":"blue"},{"nfe":0.721,"V":20.37,"g":"blue"},{"nfe":0.750,"V":20.36,"g":"blue"},{"nfe":0.830,"V":20.37,"g":"blue"},{"nfe":0.844,"V":20.31,"g":"blue"},{"nfe":0.929,"V":20.29,"g":"blue"},{"nfe":1.033,"V":20.29,"g":"blue"},{"nfe":1.106,"V":20.24,"g":"blue"},{"nfe":1.106,"V":20.29,"g":"blue"},{"nfe":0.287,"V":20.43,"g":"blue"},{"nfe":0.342,"V":20.44,"g":"blue"},{"nfe":0.397,"V":20.44,"g":"blue"},{"nfe":0.480,"V":20.51,"g":"blue"},{"nfe":0.543,"V":20.51,"g":"blue"},{"nfe":0.604,"V":20.48,"g":"blue"},{"nfe":0.633,"V":20.45,"g":"blue"},{"nfe":0.604,"V":20.58,"g":"blue"},{"nfe":0.754,"V":20.53,"g":"blue"},{"nfe":0.757,"V":20.57,"g":"blue"},{"nfe":0.837,"V":20.50,"g":"blue"},{"nfe":0.866,"V":20.48,"g":"blue"},{"nfe":0.881,"V":20.53,"g":"blue"},{"nfe":0.924,"V":20.41,"g":"blue"},{"nfe":0.943,"V":20.44,"g":"blue"},{"nfe":0.961,"V":20.42,"g":"blue"},{"nfe":0.953,"V":20.51,"g":"blue"},{"nfe":0.975,"V":20.55,"g":"blue"},{"nfe":0.997,"V":20.58,"g":"blue"}
]
},
"hconcat": [
{
  "width": 459, "height": 561,
  "data": {"name": "feh"},
  "layer": [
    {"mark": {"type": "point", "shape": "M-1,0L1,0M0,-1L0,1", "size": 135, "filled": false, "strokeWidth": 3, "opacity": 1},
     "encoding": {
       "x": {"field": "feh", "type": "quantitative", "scale": {"domain": [-1.95, -1.58], "nice": false, "zero": false},
             "axis": {"orient": "bottom", "values": [-1.9, -1.8, -1.7, -1.6], "format": ".1f", "tickSize": 21, "offset": -21, "labelPadding": 17, "title": "[Fe/H]", "titlePadding": 12}},
       "y": {"field": "V", "type": "quantitative", "scale": {"domain": [16.5, 20.9], "reverse": true, "nice": false, "zero": false},
             "axis": {"orient": "left", "values": [17, 18, 19, 20], "format": "d", "tickSize": 21, "offset": -21, "labelPadding": 21, "title": "V", "titleFontStyle": "italic", "titleFontSize": 37, "titlePadding": 14}},
       "color": {"field": "g", "type": "nominal", "scale": {"domain": ["blue", "red"], "range": ["#0000ff", "#ff0000"]}, "legend": null}
     }},
    {"mark": {"type": "point", "opacity": 0},
     "encoding": {
       "x": {"field": "feh", "type": "quantitative", "scale": {"domain": [-1.95, -1.58], "nice": false, "zero": false},
             "axis": {"orient": "bottom", "values": [-1.94, -1.92, -1.88, -1.86, -1.84, -1.82, -1.78, -1.76, -1.74, -1.72, -1.68, -1.66, -1.64, -1.62], "tickSize": 11, "offset": -11, "labels": false, "title": null}},
       "y": {"field": "V", "type": "quantitative", "scale": {"domain": [16.5, 20.9], "reverse": true, "nice": false, "zero": false},
             "axis": {"orient": "left", "values": [16.6, 16.8, 17.2, 17.4, 17.6, 17.8, 18.2, 18.4, 18.6, 18.8, 19.2, 19.4, 19.6, 19.8, 20.2, 20.4, 20.6, 20.8], "tickSize": 11, "offset": -11, "labels": false, "title": null}}
     }},
    {"mark": {"type": "point", "opacity": 0},
     "encoding": {
       "x": {"field": "feh", "type": "quantitative", "scale": {"domain": [-1.95, -1.58], "nice": false, "zero": false},
             "axis": {"orient": "top", "values": [-1.9, -1.8, -1.7, -1.6], "tickSize": 21, "offset": -21, "labels": false, "title": null}},
       "y": {"field": "V", "type": "quantitative", "scale": {"domain": [16.5, 20.9], "reverse": true, "nice": false, "zero": false},
             "axis": {"orient": "right", "values": [17, 18, 19, 20], "tickSize": 21, "offset": -21, "labels": false, "title": null}}
     }},
    {"mark": {"type": "point", "opacity": 0},
     "encoding": {
       "x": {"field": "feh", "type": "quantitative", "scale": {"domain": [-1.95, -1.58], "nice": false, "zero": false},
             "axis": {"orient": "top", "values": [-1.94, -1.92, -1.88, -1.86, -1.84, -1.82, -1.78, -1.76, -1.74, -1.72, -1.68, -1.66, -1.64, -1.62], "tickSize": 11, "offset": -11, "labels": false, "title": null}},
       "y": {"field": "V", "type": "quantitative", "scale": {"domain": [16.5, 20.9], "reverse": true, "nice": false, "zero": false},
             "axis": {"orient": "right", "values": [16.6, 16.8, 17.2, 17.4, 17.6, 17.8, 18.2, 18.4, 18.6, 18.8, 19.2, 19.4, 19.6, 19.8, 20.2, 20.4, 20.6, 20.8], "tickSize": 11, "offset": -11, "labels": false, "title": null}}
     }}
  ],
  "resolve": {"axis": {"x": "independent", "y": "independent"}}
},
{
  "width": 459, "height": 561,
  "data": {"name": "cfe"},
  "layer": [
    {"mark": {"type": "point", "shape": "M-1,0L1,0M0,-1L0,1", "size": 135, "filled": false, "strokeWidth": 3, "opacity": 1},
     "encoding": {
       "x": {"field": "cfe", "type": "quantitative", "scale": {"domain": [-0.59, 0.35], "nice": false, "zero": false},
             "axis": {"orient": "bottom", "values": [-0.3, 0, 0.3], "format": ".1f", "tickSize": 21, "offset": -21, "labelPadding": 17, "title": "[C/Fe]", "titlePadding": 12}},
       "y": {"field": "V", "type": "quantitative", "scale": {"domain": [16.5, 20.9], "reverse": true, "nice": false, "zero": false},
             "axis": {"orient": "left", "values": [17, 18, 19, 20], "tickSize": 21, "offset": -21, "labels": false, "title": null}},
       "color": {"field": "g", "type": "nominal", "scale": {"domain": ["blue", "red"], "range": ["#0000ff", "#ff0000"]}, "legend": null}
     }},
    {"mark": {"type": "point", "opacity": 0},
     "encoding": {
       "x": {"field": "cfe", "type": "quantitative", "scale": {"domain": [-0.59, 0.35], "nice": false, "zero": false},
             "axis": {"orient": "bottom", "values": [-0.5, -0.4, -0.2, -0.1, 0.1, 0.2], "tickSize": 11, "offset": -11, "labels": false, "title": null}},
       "y": {"field": "V", "type": "quantitative", "scale": {"domain": [16.5, 20.9], "reverse": true, "nice": false, "zero": false},
             "axis": {"orient": "left", "values": [16.6, 16.8, 17.2, 17.4, 17.6, 17.8, 18.2, 18.4, 18.6, 18.8, 19.2, 19.4, 19.6, 19.8, 20.2, 20.4, 20.6, 20.8], "tickSize": 11, "offset": -11, "labels": false, "title": null}}
     }},
    {"mark": {"type": "point", "opacity": 0},
     "encoding": {
       "x": {"field": "cfe", "type": "quantitative", "scale": {"domain": [-0.59, 0.35], "nice": false, "zero": false},
             "axis": {"orient": "top", "values": [-0.3, 0, 0.3], "tickSize": 21, "offset": -21, "labels": false, "title": null}},
       "y": {"field": "V", "type": "quantitative", "scale": {"domain": [16.5, 20.9], "reverse": true, "nice": false, "zero": false},
             "axis": {"orient": "right", "values": [17, 18, 19, 20], "tickSize": 21, "offset": -21, "labels": false, "title": null}}
     }},
    {"mark": {"type": "point", "opacity": 0},
     "encoding": {
       "x": {"field": "cfe", "type": "quantitative", "scale": {"domain": [-0.59, 0.35], "nice": false, "zero": false},
             "axis": {"orient": "top", "values": [-0.5, -0.4, -0.2, -0.1, 0.1, 0.2], "tickSize": 11, "offset": -11, "labels": false, "title": null}},
       "y": {"field": "V", "type": "quantitative", "scale": {"domain": [16.5, 20.9], "reverse": true, "nice": false, "zero": false},
             "axis": {"orient": "right", "values": [16.6, 16.8, 17.2, 17.4, 17.6, 17.8, 18.2, 18.4, 18.6, 18.8, 19.2, 19.4, 19.6, 19.8, 20.2, 20.4, 20.6, 20.8], "tickSize": 11, "offset": -11, "labels": false, "title": null}}
     }}
  ],
  "resolve": {"axis": {"x": "independent", "y": "independent"}}
},
{
  "width": 459, "height": 561,
  "data": {"name": "nfe"},
  "layer": [
    {"mark": {"type": "point", "shape": "M-1,0L1,0M0,-1L0,1", "size": 135, "filled": false, "strokeWidth": 3, "opacity": 1},
     "encoding": {
       "x": {"field": "nfe", "type": "quantitative", "scale": {"domain": [-0.2, 1.8], "nice": false, "zero": false},
             "axis": {"orient": "bottom", "values": [0, 1], "format": ".1f", "tickSize": 21, "offset": -21, "labelPadding": 17, "title": "[N/Fe]", "titlePadding": 12}},
       "y": {"field": "V", "type": "quantitative", "scale": {"domain": [16.5, 20.9], "reverse": true, "nice": false, "zero": false},
             "axis": {"orient": "left", "values": [17, 18, 19, 20], "tickSize": 21, "offset": -21, "labels": false, "title": null}},
       "color": {"field": "g", "type": "nominal", "scale": {"domain": ["blue", "red"], "range": ["#0000ff", "#ff0000"]}, "legend": null}
     }},
    {"mark": {"type": "point", "opacity": 0},
     "encoding": {
       "x": {"field": "nfe", "type": "quantitative", "scale": {"domain": [-0.2, 1.8], "nice": false, "zero": false},
             "axis": {"orient": "bottom", "values": [0.2, 0.4, 0.6, 0.8, 1.2, 1.4, 1.6], "tickSize": 11, "offset": -11, "labels": false, "title": null}},
       "y": {"field": "V", "type": "quantitative", "scale": {"domain": [16.5, 20.9], "reverse": true, "nice": false, "zero": false},
             "axis": {"orient": "left", "values": [16.6, 16.8, 17.2, 17.4, 17.6, 17.8, 18.2, 18.4, 18.6, 18.8, 19.2, 19.4, 19.6, 19.8, 20.2, 20.4, 20.6, 20.8], "tickSize": 11, "offset": -11, "labels": false, "title": null}}
     }},
    {"mark": {"type": "point", "opacity": 0},
     "encoding": {
       "x": {"field": "nfe", "type": "quantitative", "scale": {"domain": [-0.2, 1.8], "nice": false, "zero": false},
             "axis": {"orient": "top", "values": [0, 1], "tickSize": 21, "offset": -21, "labels": false, "title": null}},
       "y": {"field": "V", "type": "quantitative", "scale": {"domain": [16.5, 20.9], "reverse": true, "nice": false, "zero": false},
             "axis": {"orient": "right", "values": [17, 18, 19, 20], "tickSize": 21, "offset": -21, "labels": false, "title": null}}
     }},
    {"mark": {"type": "point", "opacity": 0},
     "encoding": {
       "x": {"field": "nfe", "type": "quantitative", "scale": {"domain": [-0.2, 1.8], "nice": false, "zero": false},
             "axis": {"orient": "top", "values": [0.2, 0.4, 0.6, 0.8, 1.2, 1.4, 1.6], "tickSize": 11, "offset": -11, "labels": false, "title": null}},
       "y": {"field": "V", "type": "quantitative", "scale": {"domain": [16.5, 20.9], "reverse": true, "nice": false, "zero": false},
             "axis": {"orient": "right", "values": [16.6, 16.8, 17.2, 17.4, 17.6, 17.8, 18.2, 18.4, 18.6, 18.8, 19.2, 19.4, 19.6, 19.8, 20.2, 20.4, 20.6, 20.8], "tickSize": 11, "offset": -11, "labels": false, "title": null}}
     }}
  ],
  "resolve": {"axis": {"x": "independent", "y": "independent"}}
}
],
"spacing": 51,
"bounds": "flush"
}
